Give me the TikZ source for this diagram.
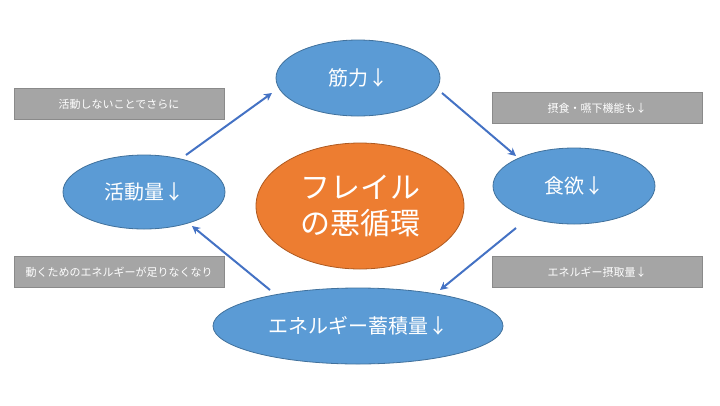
\documentclass[tikz,border=0pt]{standalone}
\usepackage{fontspec}
\setmainfont{Noto Sans CJK JP}
\usetikzlibrary{shapes.geometric,arrows.meta}
\definecolor{bfill}{HTML}{5B9BD5}
\definecolor{bdraw}{HTML}{41719C}
\definecolor{ofill}{HTML}{ED7D31}
\definecolor{odraw}{HTML}{AE5A21}
\definecolor{gfill}{HTML}{A5A5A5}
\definecolor{gdraw}{HTML}{8A8A8A}
\definecolor{arr}{HTML}{4472C4}
\begin{document}
\begin{tikzpicture}[x=1pt,y=-1pt,
  blue/.style={ellipse,fill=bfill,draw=bdraw,line width=0.8pt,text=white,font=\fontsize{20}{22}\selectfont,inner sep=0pt},
  gbox/.style={rectangle,fill=gfill,draw=gdraw,line width=0.6pt,text=white,font=\fontsize{11}{13}\selectfont,minimum width=210pt,minimum height=31pt,inner sep=0pt},
  conn/.style={arr,line width=2pt,-{Stealth[length=8pt,width=8pt]}}]
\useasboundingbox (0,0) rectangle (720,405);
\node[blue,minimum width=164pt,minimum height=76pt] (kin) at (358,78) {筋力↓};
\node[blue,minimum width=162pt,minimum height=76pt] (shoku) at (574,186) {食欲↓};
\node[blue,minimum width=162pt,minimum height=74pt] (katsu) at (144,192) {活動量↓};
\node[blue,minimum width=290pt,minimum height=76pt] (ene) at (358,326) {エネルギー蓄積量↓};
\node[ellipse,fill=ofill,draw=odraw,line width=0.8pt,text=white,minimum width=208pt,minimum height=126pt,inner sep=0pt,align=center,font=\fontsize{30}{36}\selectfont] (c) at (360,206) {フレイル\\の悪循環};
\node[gbox] (g1) at (119,104) {活動しないことでさらに};
\node[gbox] (g2) at (597,108) {摂食・嚥下機能も↓};
\node[gbox] (g3) at (119,272) {動くためのエネルギーが足りなくなり};
\node[gbox] (g4) at (597,272) {エネルギー摂取量↓};
\coordinate (a1) at (186,155); \coordinate (a1e) at (272,93);
\coordinate (a2) at (442,93); \coordinate (a2e) at (516,156);
\coordinate (a3) at (516,228); \coordinate (a3e) at (440,290);
\coordinate (a4) at (270,290); \coordinate (a4e) at (192,226);
\draw[conn] (a1) -- (a1e);
\draw[conn] (a2) -- (a2e);
\draw[conn] (a3) -- (a3e);
\draw[conn] (a4) -- (a4e);
\end{tikzpicture}
\end{document}
